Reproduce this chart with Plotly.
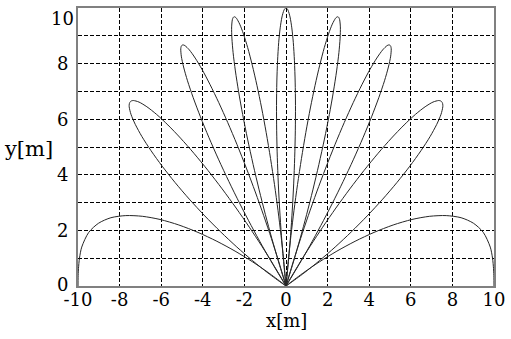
import numpy as np
import plotly.graph_objects as go

# Direction cosines (cos of beam angle) of the nine main lobes
STEER_U = [-1.0, -0.75, -0.5, -0.25, 0.0, 0.25, 0.5, 0.75, 1.0]
PEAK_R = 10.0  # lobe length [m]

# Main-lobe profile: offset in direction cosine -> relative amplitude
PROFILE_DU = [0.0, 0.0005, 0.001, 0.002, 0.005, 0.01, 0.02, 0.03, 0.04, 0.05,
              0.06, 0.07, 0.08, 0.09, 0.10, 0.11, 0.12, 0.13, 0.14, 0.142857]
PROFILE_A = [1.0, 1.0, 0.9999, 0.9997, 0.998, 0.992, 0.968, 0.929, 0.877, 0.811,
             0.735, 0.651, 0.560, 0.465, 0.369, 0.275, 0.184, 0.098, 0.021, 0.0]

X_TICKS = [-10, -8, -6, -4, -2, 0, 2, 4, 6, 8, 10]
X_TICK_LABELS = ["-10", "-8", "-6", "-4", "-2", "0", "2", "4", "6", "8", "10"]
Y_TICKS = [0, 2, 4, 6, 8, 10]
Y_TICK_LABELS = ["0", "2", "4", "6", "8", "10"]
Y_MINOR_GRID = [1, 3, 5, 7, 9]

du = np.array(PROFILE_DU)
amp = np.array(PROFILE_A)

fig = go.Figure()
for u0 in STEER_U:
    segs_u, segs_a = [], []
    if u0 > -1:  # side toward smaller u
        segs_u.append(u0 - du[::-1]); segs_a.append(amp[::-1])
    if u0 < 1:   # side toward larger u
        start = 1 if len(segs_u) else 0
        segs_u.append(u0 + du[start:]); segs_a.append(amp[start:])
    u = np.clip(np.concatenate(segs_u), -1, 1)
    a = np.concatenate(segs_a)
    r = PEAK_R * a
    x = r * u
    y = r * np.sqrt(np.clip(1 - u ** 2, 0, None))
    fig.add_trace(go.Scatter(x=x, y=y, mode="lines",
                             line=dict(color="#262626", width=1, shape="spline", smoothing=0.8),
                             hoverinfo="skip", showlegend=False, cliponaxis=False))

FAM = "DejaVu Serif"
tick_font = dict(family=FAM, size=18, color="black")
grid = dict(showgrid=True, gridcolor="black", gridwidth=1, griddash="4px,2px")

# y tick labels: centred in the left margin, as in the reference
y_top = max(Y_TICKS)
y_label_anns = [dict(text=t, x=-0.0373, y=v, xref="paper", yref="y",
                     xanchor="center", yanchor="top" if v == y_top else "middle",
                     yshift=2 if v == y_top else (2 if v == 0 else 0),
                     showarrow=False, font=tick_font)
                for v, t in zip(Y_TICKS, Y_TICK_LABELS)]

fig.update_layout(
    width=511, height=339,
    margin=dict(l=78, r=17, t=6, b=53),
    paper_bgcolor="white", plot_bgcolor="white",
    font=tick_font,
    xaxis=dict(range=[-10, 10], tickvals=X_TICKS, ticktext=X_TICK_LABELS,
               showline=True, linecolor="#808080", linewidth=1.5, mirror=True,
               zeroline=False, ticks="", fixedrange=True, tickfont=tick_font,
               ticklabeloverflow="allow", ticklabelstandoff=-3, **grid),
    yaxis=dict(range=[0, 10], tickvals=Y_TICKS, showticklabels=False,
               showline=True, linecolor="#808080", linewidth=1.5, mirror=True,
               zeroline=False, ticks="", fixedrange=True,
               minor=dict(tickvals=Y_MINOR_GRID, ticks="", **grid), **grid),
    annotations=y_label_anns + [
        dict(text="x[m]", x=0.5, y=-0.125, xref="paper", yref="paper",
             xanchor="center", yanchor="middle", showarrow=False,
             font=dict(family=FAM, size=18, color="black")),
        dict(text="y[m]", x=-0.120, y=0.493, xref="paper", yref="paper",
             xanchor="center", yanchor="middle", showarrow=False,
             font=dict(family=FAM, size=21, color="black")),
    ],
)
fig.write_html("out.html")
